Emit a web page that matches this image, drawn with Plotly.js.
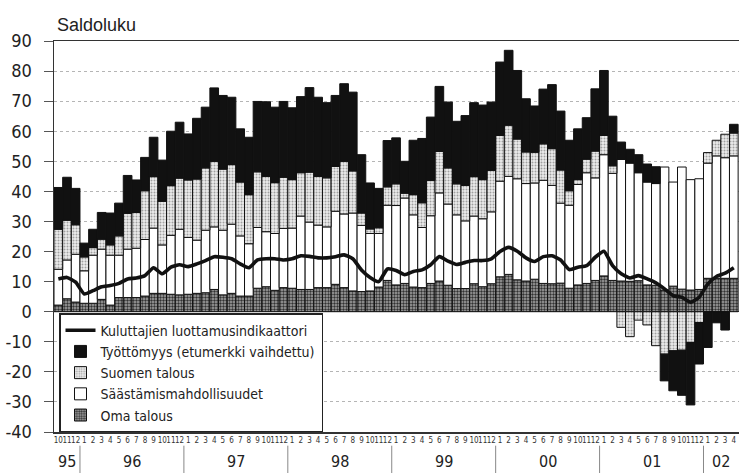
<!DOCTYPE html>
<html><head><meta charset="utf-8">
<script src="https://cdn.plot.ly/plotly-3.0.1.min.js"></script>
<style>html,body{margin:0;padding:0;background:#fff}</style>
</head><body>
<div id="chart" style="width:739px;height:473px"></div>
<script>
// Month of each bar (Oct 1995 .. Apr 2002)
const months = ['10','11','12',
 '1','2','3','4','5','6','7','8','9','10','11','12',
 '1','2','3','4','5','6','7','8','9','10','11','12',
 '1','2','3','4','5','6','7','8','9','10','11','12',
 '1','2','3','4','5','6','7','8','9','10','11','12',
 '1','2','3','4','5','6','7','8','9','10','11','12',
 '1','2','3','4','5','6','7','8','9','10','11','12',
 '1','2','3','4'];
const yearNames = ['95','96','97','98','99','00','01','02'];
const yearCounts = [3,12,12,12,12,12,12,4];

const omaTalous = [2.2,4.3,3.2, 2.8,2.8,4.1,2.2,4.7,4.7,4.7,5.2,6.1,6.1,5.8,5.6,
 5.8,6.1,6.3,7.4,5.6,6.1,5.2,5.2,7.8,8.3,7.1,8.0,
 7.8,7.4,7.4,8.0,8.0,9.1,8.0,6.9,6.7,6.9,8.2,10.4,
 8.9,9.4,8.2,8.0,9.4,10.2,8.8,7.7,7.7,9.3,8.3,9.3,
 11.6,12.4,10.6,10.2,10.8,9.4,9.3,9.5,7.8,8.9,9.4,10.4,
 11.9,10.4,10.2,10.1,10.3,8.9,8.8,7.2,8.5,7.5,7.2,7.4,
 11.1,11.1,11.1,11.1];
const saastamis = [11.9,12.9,15.9, 10.8,16.0,16.7,16.6,14.1,16.1,16.4,18.8,21.7,16.1,19.6,21.8,
 18.9,17.7,20.8,20.8,21.5,23.0,20.0,17.4,20.2,18.3,18.9,19.7,
 20.0,24.4,22.4,20.8,20.2,24.3,24.5,25.9,22.0,19.1,17.8,25.0,
 26.4,28.4,24.0,20.0,22.5,29.3,27.0,24.5,22.5,22.5,22.6,23.9,
 31.8,32.6,33.6,32.4,32.0,34.3,32.7,26.6,27.6,33.4,36.8,34.1,
 40.3,35.6,40.4,39.3,35.9,34.2,33.8,40.9,34.6,40.6,36.7,36.8,
 38.3,40.7,40.1,40.7];
const suomenTalous = [13.3,13.2,9.8, 4.6,2.5,3.3,3.4,6.4,11.9,11.9,16.2,17.1,14.5,16.5,17.0,
 19.1,20.3,20.7,21.8,20.3,19.8,17.9,16.3,18.5,18.4,16.9,17.0,
 16.1,14.4,16.6,16.2,16.3,14.9,17.5,14.0,4.1,1.5,1.9,6.1,
 7.2,1.6,6.7,8.2,11.7,13.8,12.0,10.3,11.8,13.1,13.0,13.8,
 15.2,17.0,13.2,10.5,10.2,12.1,12.2,11.0,4.8,1.6,4.5,8.9,
 6.4,2.5,-5.2,-8.3,-2.8,-4.4,-11.3,-14.1,-13.0,-12.8,-10.2,-3.6,
 3.5,5.2,7.8,7.6];
const tyottomyys = [13.9,14.3,12.1, 4.6,6.1,8.9,10.6,10.9,12.6,10.8,11.1,13.1,13.7,18.1,18.6,
 15.3,20.2,20.2,24.4,24.5,22.4,17.7,19.1,23.4,24.8,25.1,25.2,
 23.9,25.3,28.1,26.3,25.0,23.6,25.8,26.2,19.4,15.3,13.1,15.4,
 15.3,10.6,18.1,21.4,21.1,21.6,21.9,20.8,23.2,24.6,24.8,22.7,
 24.4,24.9,22.8,17.7,15.4,18.2,21.3,19.6,16.8,16.9,13.8,20.7,
 21.6,16.5,5.8,4.6,6.0,6.0,5.6,-8.9,-13.3,-15.0,-20.8,-13.8,
 -11.9,-3.7,-6.1,2.9];
const luottamus = [10.9,11.4,9.8, 5.9,7.0,8.3,8.7,9.4,10.9,11.2,12.0,14.6,12.6,14.8,15.6,
 15.0,15.9,17.0,18.3,18.1,17.6,15.9,14.6,17.2,17.6,17.6,17.2,
 17.6,18.6,18.4,17.9,17.9,18.3,18.9,17.6,13.9,11.4,10.0,14.2,
 13.7,12.3,13.4,13.9,15.6,18.3,16.8,15.7,16.4,17.0,17.0,17.6,
 20.0,21.4,20.1,17.9,16.7,18.3,18.6,17.2,14.0,14.8,15.3,18.1,
 20.1,15.3,12.6,11.2,12.0,10.9,9.6,7.6,5.3,4.8,3.1,4.8,
 9.2,11.7,12.8,14.6];
const yTickVals = [-40,-30,-20,-10,0,10,20,30,40,50,60,70,80,90];
const yTickText = ['-40','-30','-20','-10','0','10','20','30','40','50','60','70','80','90'];

const idx = months.map((m,i)=>i);
const narrow = '"Liberation Sans Narrow", "DejaVu Sans Condensed", "Arial Narrow", "Liberation Sans", sans-serif';
const sans = '"Liberation Sans", Arial, sans-serif';
const outline = {color:'#111', width:1};

const traces = [
 {type:'bar', name:'Oma talous', x:idx, y:omaTalous, legendrank:5,
  marker:{color:'#8f8f8f', line:outline, pattern:{shape:'.', fgcolor:'#333333', bgcolor:'#a6a6a6', size:3, solidity:0.5}}},
 {type:'bar', name:'Säästämismahdollisuudet', x:idx, y:saastamis, legendrank:4,
  marker:{color:'#ffffff', line:outline}},
 {type:'bar', name:'Suomen talous', x:idx, y:suomenTalous, legendrank:3,
  marker:{color:'#dddddd', line:outline, pattern:{shape:'.', fgcolor:'#a0a0a0', bgcolor:'#ececec', size:3, solidity:0.35}}},
 {type:'bar', name:'Työttömyys (etumerkki vaihdettu)', x:idx, y:tyottomyys, legendrank:2,
  marker:{color:'#111111', line:outline}},
 {type:'scatter', mode:'lines', name:'Kuluttajien luottamusindikaattori', x:idx, y:luottamus, legendrank:1,
  line:{color:'#111', width:3.6, shape:'spline', smoothing:0.5}}
];

// year group labels and dividers derived from the year lists
const annotations = [];
const shapes = [];
let start = 0;
yearNames.forEach((yn,k)=>{
  const end = start + yearCounts[k] - 1;
  annotations.push({x:(start+end)/2, y:-0.1049, xref:'x', yref:'paper', text:yn, showarrow:false,
    yanchor:'bottom', font:{family:narrow, size:16, color:'#222'}});
  if (k>0) shapes.push({type:'line', xref:'x', yref:'paper', x0:start-0.5, x1:start-0.5, y0:-0.035, y1:-0.11,
    line:{color:'#888', width:1}});
  start = end + 1;
});

const layout = {
  width:739, height:473,
  margin:{l:54, r:0, t:41, b:41},
  paper_bgcolor:'#fff', plot_bgcolor:'#fff',
  barmode:'relative', bargap:0,
  showlegend:true,
  title:{text:'Saldoluku', x:57/739, xanchor:'left', xref:'container', y:1-25/473, yref:'container', yanchor:'middle',
    font:{family:sans, size:18, color:'#222'}},
  legend:{x:0.0073, y:0.304, xanchor:'left', yanchor:'top', bgcolor:'#fff', bordercolor:'#222', borderwidth:1.5,
    font:{family:narrow, size:14, color:'#222'}, tracegroupgap:0, itemwidth:30},
  xaxis:{range:[-0.5, 78.6], tickmode:'array', tickvals:idx, ticktext:months, tickangle:0,
    tickfont:{family:narrow, size:8, color:'#333'}, ticks:'', showgrid:false, zeroline:false,
    showline:true, linecolor:'#333', linewidth:1.5, mirror:true, fixedrange:true},
  yaxis:{range:[-40,90], tickmode:'array', tickvals:yTickVals, ticktext:yTickText,
    tickfont:{family:narrow, size:18, color:'#222'}, ticks:'outside', ticklen:9, tickcolor:'#555', tickwidth:1,
    ticklabelstandoff:8,
    showgrid:true, gridcolor:'#b5b5b5', griddash:'dot', gridwidth:1,
    zeroline:true, zerolinecolor:'#333', zerolinewidth:1.5,
    showline:true, linecolor:'#333', linewidth:1.5},
  annotations:annotations, shapes:shapes
};
Plotly.newPlot('chart', traces, layout, {staticPlot:true, displayModeBar:false});
</script>
</body></html>
